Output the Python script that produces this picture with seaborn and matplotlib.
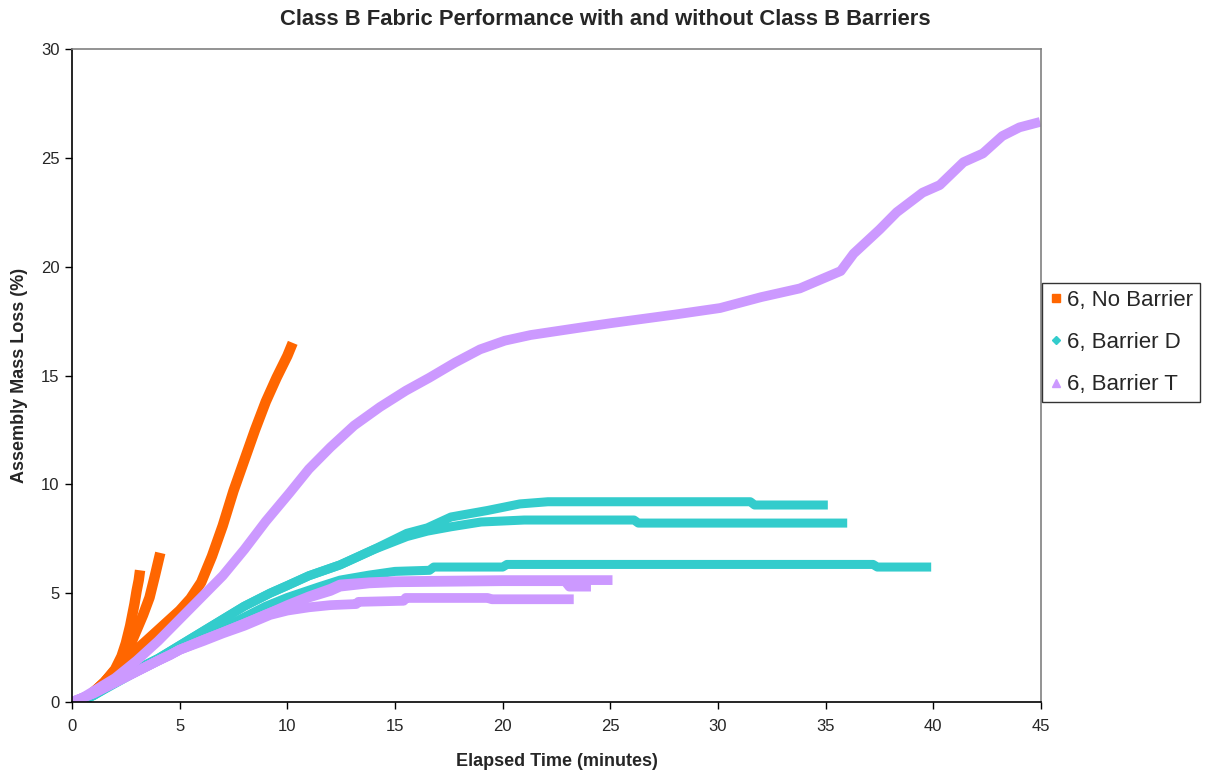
import pandas as pd
import seaborn as sns
import matplotlib.pyplot as plt
from matplotlib.lines import Line2D

# (minutes, % mass loss)
# 6, No Barrier - three runs
nb1_t = [0.4, 0.7, 1.0, 1.5, 2.0, 2.3, 3.0, 4.0, 4.5, 5.0, 5.5, 6.0, 6.5, 7.0, 7.5, 8.0, 8.5, 9.0, 9.5, 10.0, 10.25]
nb1_m = [0.0, 0.2, 0.45, 0.9, 1.45, 1.75, 2.4, 3.3, 3.75, 4.2, 4.75, 5.5, 6.7, 8.1, 9.7, 11.1, 12.5, 13.8, 14.9, 15.9, 16.5]
nb2_t = [0.4, 0.7, 1.0, 1.5, 2.0, 2.3, 2.7, 3.0, 3.3, 3.6, 3.85, 4.1]
nb2_m = [0.0, 0.2, 0.45, 0.9, 1.45, 1.9, 2.6, 3.3, 4.0, 4.8, 5.8, 6.85]
nb3_t = [0.4, 0.7, 1.0, 1.5, 2.0, 2.3, 2.5, 2.7, 2.9, 3.0, 3.1, 3.16]
nb3_m = [0.0, 0.2, 0.45, 0.9, 1.5, 2.1, 2.7, 3.5, 4.5, 5.1, 5.6, 6.05]

# 6, Barrier D - three runs
bd1_t = [0.0, 0.5, 1, 2, 3, 4, 5, 6, 7, 8, 9.2, 10, 11, 12.45, 14, 15.55, 16.5, 17.6, 19.3, 20.8, 22.1, 31.5, 31.7, 35.1]
bd1_m = [0.0, 0.05, 0.3, 0.9, 1.5, 2.0, 2.6, 3.2, 3.8, 4.4, 5.0, 5.35, 5.8, 6.3, 7.0, 7.75, 8.0, 8.5, 8.8, 9.1, 9.2, 9.2, 9.05, 9.05]
bd2_t = [0.0, 0.5, 1, 2, 3, 4, 5, 6, 7, 8, 9.2, 10, 11, 12.45, 14, 15.55, 16.5, 17.6, 19.0, 21.0, 26.1, 26.3, 36.0]
bd2_m = [0.0, 0.05, 0.3, 0.9, 1.5, 2.0, 2.6, 3.2, 3.8, 4.4, 5.0, 5.35, 5.8, 6.3, 7.0, 7.6, 7.85, 8.05, 8.27, 8.36, 8.36, 8.22, 8.22]
bd3_t = [0.0, 1, 2, 3, 4, 5, 6, 7, 8, 9, 10, 11.5, 12.45, 13.8, 15.0, 16.6, 16.8, 20.0, 20.2, 37.2, 37.4, 39.9]
bd3_m = [0.0, 0.3, 0.85, 1.4, 1.9, 2.4, 2.9, 3.4, 3.9, 4.4, 4.8, 5.3, 5.6, 5.83, 6.0, 6.05, 6.2, 6.2, 6.32, 6.32, 6.2, 6.2]

# 6, Barrier T - four runs
bt1_t = [0.0, 0.5, 1, 2, 3, 4, 4.5, 5, 6, 7, 8, 9, 10.1, 11.0, 12.0, 13.1, 14.3, 15.5, 16.6, 17.8, 18.95, 20.1, 21.3, 23.6, 25, 28, 30.1, 32, 32.9,
         33.8, 35.7, 36.3, 37.5, 38.3, 39.5, 40.3, 41.4, 42.3, 43.2, 44.0, 44.96]
bt1_m = [0.0, 0.2, 0.5, 1.1, 1.9, 2.8, 3.3, 3.8, 4.8, 5.8, 7.0, 8.3, 9.6, 10.7, 11.7, 12.7, 13.55, 14.3, 14.9, 15.6, 16.2, 16.6, 16.86, 17.2, 17.4, 17.8, 18.1, 18.6, 18.8,
         19.0, 19.8, 20.6, 21.7, 22.5, 23.4, 23.75, 24.8, 25.2, 26.0, 26.4, 26.65]
bt2_t = [0.0, 1, 2, 3, 4, 4.55, 5, 6.1, 7, 8, 9.2, 10, 11, 12, 12.45, 13.8, 15, 20, 25.1]
bt2_m = [0.0, 0.4, 0.9, 1.4, 1.9, 2.16, 2.4, 2.85, 3.2, 3.6, 4.1, 4.45, 4.85, 5.2, 5.4, 5.5, 5.55, 5.6, 5.6]
bt3_t = [0.0, 1, 2, 3, 4, 4.55, 5, 6.1, 7, 8, 9.2, 10, 11, 12, 12.45, 13.8, 15, 20, 22.9, 23.1, 24.1]
bt3_m = [0.0, 0.4, 0.9, 1.4, 1.9, 2.16, 2.4, 2.85, 3.2, 3.6, 4.1, 4.4, 4.8, 5.1, 5.3, 5.45, 5.5, 5.55, 5.55, 5.3, 5.3]
bt4_t = [0.0, 1, 2, 3, 4, 4.55, 5, 6.1, 7, 8, 9.2, 10, 11, 12, 13.2, 13.3, 15.4, 15.5, 19.3, 19.5, 23.3]
bt4_m = [0.0, 0.4, 0.9, 1.4, 1.9, 2.16, 2.4, 2.8, 3.15, 3.5, 4.0, 4.2, 4.35, 4.45, 4.5, 4.6, 4.65, 4.78, 4.78, 4.72, 4.72]

series_names = ['6, No Barrier', '6, Barrier D', '6, Barrier T']
series_colors = ['#FF6600', '#33CCCC', '#CC99FF']
series_markers = ['s', 'D', '^']

runs = [
    ('6, No Barrier', 'nb1', nb1_t, nb1_m),
    ('6, No Barrier', 'nb2', nb2_t, nb2_m),
    ('6, No Barrier', 'nb3', nb3_t, nb3_m),
    ('6, Barrier D', 'bd1', bd1_t, bd1_m),
    ('6, Barrier D', 'bd2', bd2_t, bd2_m),
    ('6, Barrier D', 'bd3', bd3_t, bd3_m),
    ('6, Barrier T', 'bt1', bt1_t, bt1_m),
    ('6, Barrier T', 'bt2', bt2_t, bt2_m),
    ('6, Barrier T', 'bt3', bt3_t, bt3_m),
    ('6, Barrier T', 'bt4', bt4_t, bt4_m),
]

rows = []
for series, run, ts, ms in runs:
    for t, m in zip(ts, ms):
        rows.append([series, run, t, m])
df = pd.DataFrame(rows, columns=['Series', 'Run', 'Time', 'Loss'])

sns.set_style('white')
plt.rcParams['font.family'] = ['Liberation Sans', 'DejaVu Sans']

fig = plt.figure(figsize=(12.05, 7.75), dpi=100)
ax = fig.add_axes([72 / 1205, 1 - 702 / 775, (1041 - 72) / 1205, (702 - 49) / 775])

# dense markers in the original look like thick bands
widths = {'6, No Barrier': 7.5, '6, Barrier D': 6.5, '6, Barrier T': 7.0}
for name, color in zip(series_names, series_colors):
    sub = df[df['Series'] == name]
    sns.lineplot(data=sub, x='Time', y='Loss', units='Run', estimator=None, sort=False,
                 color=color, linewidth=widths[name], ax=ax, legend=False,
                 solid_capstyle='butt', solid_joinstyle='round')

ax.set_xlim(0, 45)
ax.set_ylim(0, 30)
ax.set_xticks(range(0, 46, 5))
ax.set_yticks(range(0, 31, 5))
ax.tick_params(axis='both', direction='out', length=5, width=1, labelsize=12,
               left=True, bottom=True, color='black')
ax.tick_params(axis='x', pad=7)
ax.tick_params(axis='y', pad=4)
for side in ['left', 'bottom']:
    ax.spines[side].set_color('black')
    ax.spines[side].set_linewidth(1.2)
for side in ['top', 'right']:
    ax.spines[side].set_color('#808080')
    ax.spines[side].set_linewidth(1.2)

ax.set_xlabel('Elapsed Time (minutes)', fontsize=13, fontweight='bold', labelpad=14)
ax.set_ylabel('Assembly Mass Loss (%)', fontsize=13, fontweight='bold', labelpad=9)
fig.suptitle('Class B Fabric Performance with and without Class B Barriers',
             x=605 / 1205, y=1 - 9 / 775, fontsize=15.8, fontweight='bold', va='top')

handles = [Line2D([], [], linestyle='none', marker=mk, color=c, markersize=6 if mk != 'D' else 4.5)
           for mk, c in zip(series_markers, series_colors)]
leg = fig.legend(handles, series_names, loc='upper left', bbox_to_anchor=(1042 / 1205, 1 - 283 / 775),
                 fontsize=16, frameon=True, fancybox=False, borderpad=0.32, labelspacing=0.95,
                 handlelength=0.6, handletextpad=0.22, borderaxespad=0)
leg.get_frame().set_edgecolor('black')
leg.get_frame().set_linewidth(1.0)

plt.savefig('out.png', dpi=100)
